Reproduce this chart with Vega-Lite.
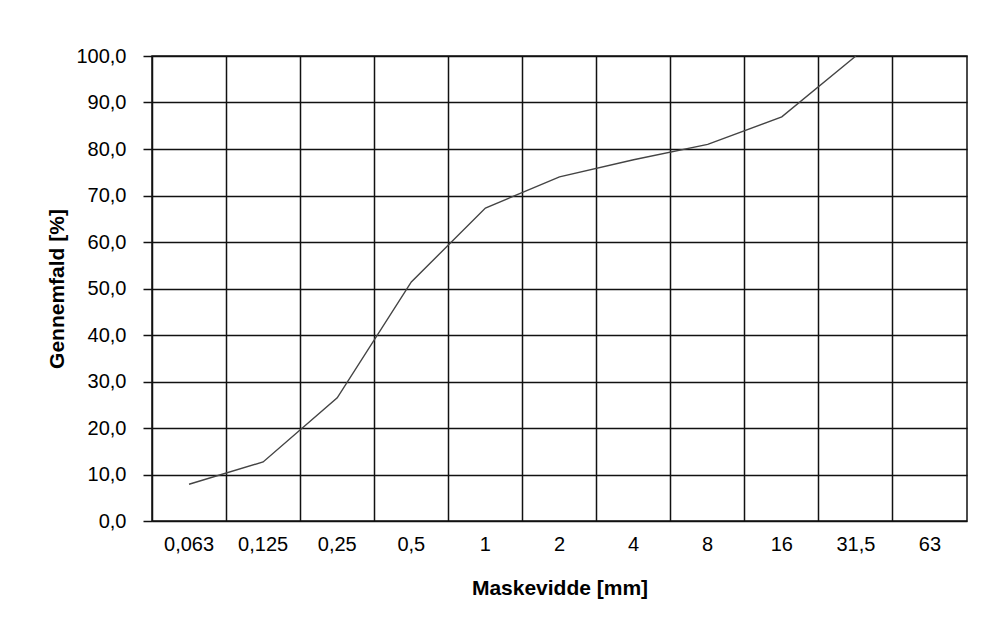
{
  "$schema": "https://vega.github.io/schema/vega-lite/v6.json",
  "autosize": {"type": "none"},
  "padding": {"left": 152, "top": 56, "right": 17, "bottom": 110},
  "width": 815,
  "height": 465,
  "background": "white",
  "data": {
    "values": [
      {"sieve": "0,063", "pass": 7.9},
      {"sieve": "0,125", "pass": 12.7},
      {"sieve": "0,25", "pass": 26.5},
      {"sieve": "0,5", "pass": 51.4},
      {"sieve": "1", "pass": 67.3},
      {"sieve": "2", "pass": 74.0},
      {"sieve": "4", "pass": 77.7},
      {"sieve": "8", "pass": 81.0},
      {"sieve": "16", "pass": 86.9},
      {"sieve": "31,5", "pass": 100.0}
    ]
  },
  "mark": {"type": "line", "color": "#444", "strokeWidth": 1.4, "clip": false},
  "encoding": {
    "x": {
      "field": "sieve",
      "type": "ordinal",
      "scale": {
        "type": "band",
        "domain": ["0,063", "0,125", "0,25", "0,5", "1", "2", "4", "8", "16", "31,5", "63"],
        "paddingInner": 0,
        "paddingOuter": 0
      },
      "axis": {
        "title": "Maskevidde [mm]",
        "labelAngle": 0,
        "bandPosition": 0,
        "ticks": false,
        "tickSize": 0,
        "labelPadding": 13,
        "labelBaseline": "top",
        "grid": true,
        "gridColor": "#111",
        "gridWidth": 1.5,
        "gridOpacity": 1,
        "domain": false,
        "titlePadding": 23
      }
    },
    "y": {
      "field": "pass",
      "type": "quantitative",
      "scale": {"domain": [0, 100], "nice": false, "zero": true},
      "axis": {
        "title": "Gennemfald [%]",
        "values": [0, 10, 20, 30, 40, 50, 60, 70, 80, 90, 100],
        "labelExpr": "replace(format(datum.value, '.1f'), '.', ',')",
        "grid": true,
        "gridColor": "#111",
        "gridWidth": 1.5,
        "gridOpacity": 1,
        "ticks": true,
        "tickSize": 9,
        "tickColor": "#111",
        "tickWidth": 1.5,
        "labelPadding": 17,
        "domain": false,
        "titlePadding": 8
      }
    }
  },
  "config": {
    "font": "Liberation Sans",
    "view": {"stroke": "#111", "strokeWidth": 1.5},
    "axis": {
      "labelFont": "Liberation Sans",
      "labelFontSize": 20,
      "labelColor": "#000",
      "titleFont": "Liberation Sans",
      "titleFontSize": 21,
      "titleFontWeight": "bold",
      "titleColor": "#000",
      "labelOverlap": false,
      "labelFlush": false
    }
  }
}
